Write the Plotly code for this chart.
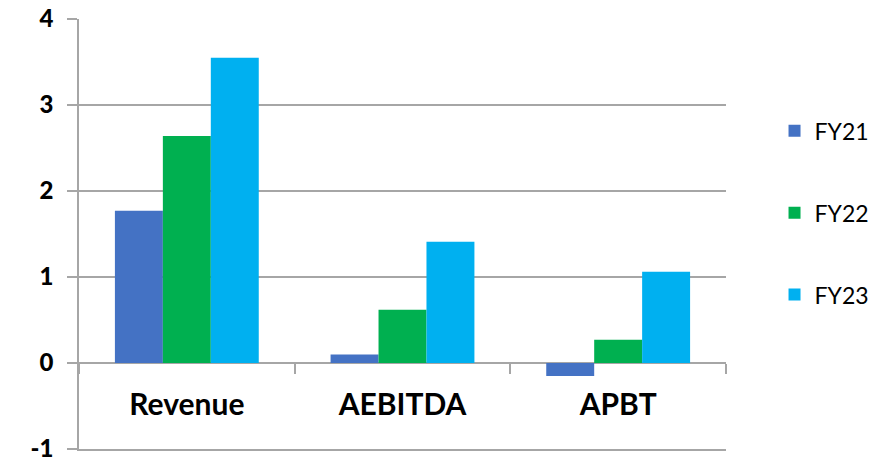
import plotly.graph_objects as go

categories = ["Revenue", "AEBITDA", "APBT"]
series_names = ["FY21", "FY22", "FY23"]
fy21 = [1.77, 0.10, -0.15]
fy22 = [2.64, 0.62, 0.27]
fy23 = [3.55, 1.41, 1.06]
colors = ["#4472C4", "#00B050", "#00B0F0"]
y_ticks = [-1, 0, 1, 2, 3, 4]
y_tick_labels = [str(v) for v in y_ticks]

fig = go.Figure()
for i, (name, vals) in enumerate(zip(series_names, [fy21, fy22, fy23])):
    fig.add_trace(go.Bar(
        x=categories, y=vals, name=name, marker_color=colors[i],
        marker_line_width=0, legendgroup=name,
    ))
# invisible helper trace so the crossing category axis (at y = 0) knows the categories
fig.add_trace(go.Scatter(
    x=categories, y=[None] * len(categories), xaxis="x2", yaxis="y",
    mode="markers", showlegend=False, hoverinfo="skip",
))

grid = "#A6A6A6"
fig.update_layout(
    width=889, height=462,
    margin=dict(l=79, r=163, t=19, b=13),
    plot_bgcolor="white", paper_bgcolor="white",
    barmode="group", bargap=0.333, bargroupgap=0,
    font=dict(family="Lato, sans-serif", color="black"),
    showlegend=True,
    legend=dict(
        x=1.075, y=0.79, xanchor="left", yanchor="top",
        font=dict(size=23, family="Lato, sans-serif", color="black"),
        tracegroupgap=49, itemwidth=30,
    ),
    xaxis=dict(
        anchor="y", automargin=False,
        showline=True, linecolor=grid, linewidth=1.5,
        ticks="", showticklabels=False, showgrid=False,
        range=[-0.5, len(categories) - 0.5],
    ),
    xaxis2=dict(
        overlaying="x", anchor="free", position=0.2, automargin=False,
        type="category", categoryarray=categories,
        range=[-0.5, len(categories) - 0.5],
        showline=False, showgrid=False, zeroline=False,
        ticks="outside", tickson="boundaries", ticklen=10, tickcolor=grid, tickwidth=1.5,
        tickfont=dict(size=30, family="Lato, sans-serif", color="black", weight="bold"),
        ticklabelstandoff=21,
    ),
    yaxis=dict(
        range=[-1, 4], tickvals=y_ticks, ticktext=y_tick_labels, automargin=False,
        showline=True, linecolor=grid, linewidth=1.5,
        showgrid=True, gridcolor=grid, gridwidth=1.5,
        zeroline=True, zerolinecolor=grid, zerolinewidth=1.5,
        ticks="outside", ticklen=10, tickcolor=grid, tickwidth=1.5,
        tickfont=dict(size=24, family="Lato, sans-serif", color="black", weight=900),
        ticklabelstandoff=9, ticklabeloverflow="allow",
    ),
)

fig.write_html("out.html")
